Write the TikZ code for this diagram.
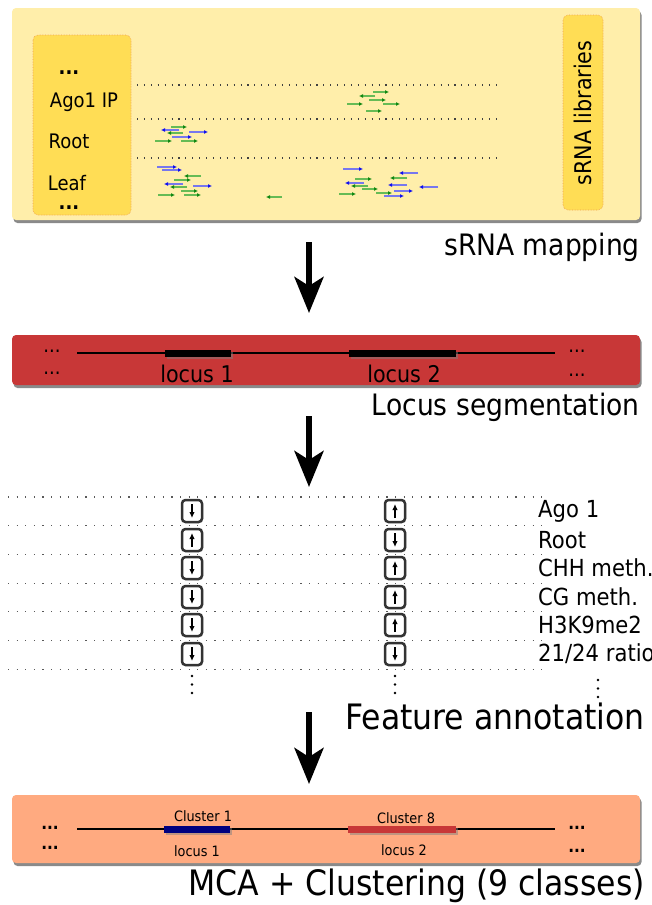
\documentclass[tikz,border=0pt]{standalone}
\usepackage{fontspec}
\setmainfont{DejaVu Sans}[FakeStretch=0.9]
\usetikzlibrary{arrows.meta,shadows}
\definecolor{panelyellow}{HTML}{FFEEAA}
\definecolor{goldbox}{HTML}{FFDD55}
\definecolor{goldedge}{HTML}{F0A050}
\definecolor{panelred}{HTML}{C83737}
\definecolor{panelorange}{HTML}{FFAA80}
\definecolor{navybar}{HTML}{00007F}
\definecolor{readgl}{HTML}{66BB55}
\definecolor{readgt}{HTML}{118811}
\definecolor{readbl}{HTML}{7777EE}
\definecolor{readbt}{HTML}{1111EE}
\tikzset{
  panel/.style={rounded corners=4pt, drop shadow={shadow xshift=1.5pt, shadow yshift=-3pt, fill=black!65, opacity=0.7}},
  libbox/.style={fill=goldbox, draw=goldedge, densely dotted, line width=0.6pt, rounded corners=5pt},
  dotline/.style={draw=black!75, line width=1.1pt, dash pattern=on 1.1pt off 5.8pt},
  fdotline/.style={draw=black!65, line width=1.1pt, dash pattern=on 1.1pt off 7.5pt},
  lbl/.style={font=\fontsize{20}{23}\selectfont, inner sep=0pt},
  dots/.style={font=\fontsize{20}{23}\selectfont\bfseries, inner sep=0pt},
  biglbl/.style={font=\fontsize{29.5}{33}\selectfont, inner sep=0pt, anchor=east},
  hugelbl/.style={font=\fontsize{35}{40}\selectfont, inner sep=0pt, anchor=east},
  loclbl/.style={font=\fontsize{23}{26}\selectfont, inner sep=0pt},
  smalllbl/.style={font=\fontsize{14.3}{16}\selectfont, inner sep=0pt},
  featlbl/.style={font=\fontsize{23.5}{26}\selectfont, inner sep=0pt, anchor=west},
  bigarrow/.style={line width=6pt, -{Stealth[length=36pt,width=29pt,inset=9pt]}},
  fbox/.style={draw=black!80, line width=2.5pt, rounded corners=3.5pt, minimum width=20pt, minimum height=22pt, fill=white, inner sep=0pt,
    drop shadow={shadow xshift=1pt, shadow yshift=-1pt, fill=black!45, opacity=0.7}},
  farrow/.style={line width=1.4pt, -{Latex[length=6pt,width=5.5pt]}},
  readg/.style={draw=readgl, line width=1.9pt, -{Latex[length=4pt,width=4pt,color=readgt]}},
  readb/.style={draw=readbl, line width=1.9pt, -{Latex[length=4pt,width=4pt,color=readbt]}},
  bar/.style={drop shadow={shadow xshift=1.5pt, shadow yshift=-2pt, fill=black!50, opacity=0.5}},
  vdot/.style={fill=black, circle, inner sep=0pt, minimum size=2.8pt}
}
\begin{document}
\begin{tikzpicture}[x=1pt,y=-1pt]
\useasboundingbox[fill=white] (0,0) rectangle (652,905);

% ---------------- Panel 1: sRNA mapping ----------------
\path[panel, fill=panelyellow] (12,8) rectangle (640,220);
\path[libbox] (33,35) rectangle (131,215);
\path[libbox] (563,15) rectangle (603,210);
\node[dots] (d1) at (69,73) {...};
\node[lbl] (ago) at (84,102) {Ago1 IP};
\node[lbl] (root) at (69,141) {Root};
\node[lbl] (leaf) at (67,183) {Leaf};
\node[dots] (d2) at (69,208) {...};
\node[font=\fontsize{23}{26}\selectfont, inner sep=0pt, rotate=90] (lib) at (583,113) {sRNA libraries};
\draw[dotline] (137,85) -- (500,85);
\draw[dotline] (137,119) -- (500,119);
\draw[dotline] (137,158) -- (500,158);
% reads: x1/x2/y/dir(1=right,0=left)/colour(g,b)
\foreach \xa/\xb/\yy/\dd/\cc in {
  373/389/92/1/g, 359/375/96/0/g, 369/386/100/1/g, 347/363/104/1/g, 383/400/104/1/g, 366/382/111/1/g,
  171/187/127/1/g, 161/179/130/0/b, 189/208/132/1/b, 167/183/133/0/g, 172/192/137/1/b, 155/172/141/1/g, 181/198/141/1/g,
  157/177/167/1/b, 162/182/170/1/b, 184/201/176/0/g, 174/191/180/1/g, 164/183/184/0/b, 170/187/187/0/g, 193/212/186/1/b,
  181/198/191/1/g, 158/175/195/1/g, 184/201/195/1/g, 266/282/197/0/g,
  343/363/169/1/b, 355/372/179/1/g, 345/364/183/0/b, 351/368/186/0/g, 339/356/194/1/g, 362/378/189/1/g, 376/392/193/1/g,
  384/404/196/1/b, 399/418/173/0/b, 390/407/178/0/g, 388/407/185/0/b, 394/413/191/1/b, 419/438/187/0/b}{
  \ifnum\dd=1
    \draw[read\cc] (\xa,\yy) -- (\xb,\yy);
  \else
    \draw[read\cc] (\xb,\yy) -- (\xa,\yy);
  \fi
}
\node[biglbl] (map) at (640,247) {sRNA mapping};

% ---------------- Arrow 1 ----------------
\coordinate (a1s) at (309,242);
\coordinate (a1e) at (309,313);
\draw[bigarrow] (a1s) -- (a1e);

% ---------------- Panel 2: Locus segmentation ----------------
\path[panel, fill=panelred] (12,335) rectangle (640,385);
\coordinate (g2l) at (77,353);
\coordinate (g2r) at (555,353);
\draw[line width=1.2pt] (g2l) -- (g2r);
\path[bar, fill=black] (165,349.5) rectangle (231,356.5);
\path[bar, fill=black] (349,349.5) rectangle (456,356.5);
\node[lbl] (s2a) at (52,351) {...};
\node[lbl] (s2b) at (52,373) {...};
\node[lbl] (s2c) at (577,351) {...};
\node[lbl] (s2d) at (577,375) {...};
\node[loclbl] (l1) at (197,374) {locus 1};
\node[loclbl] (l2) at (404,374) {locus 2};
\node[biglbl] (seg) at (640,407) {Locus segmentation};

% ---------------- Arrow 2 ----------------
\coordinate (a2s) at (309,416);
\coordinate (a2e) at (309,487);
\draw[bigarrow] (a2s) -- (a2e);

% ---------------- Panel 3: Feature annotation ----------------
\foreach \yy in {497,525.7,554.4,583.1,611.8,640.5,669.2}{
  \draw[fdotline] (8,\yy) -- (546,\yy);
}
\foreach \i/\yy/\dl/\dr/\name in {1/511/0/1/{Ago 1}, 2/540/1/0/{Root}, 3/568/0/1/{CHH meth.}, 4/597/0/1/{CG meth.}, 5/625/0/1/{H3K9me2}, 6/654/0/0/{21/24 ratio}}{
  \node[fbox] (fl\i) at (192,\yy) {};
  \node[fbox] (fr\i) at (395,\yy) {};
  \ifnum\dl=1
    \draw[farrow] ([yshift=-7pt]fl\i.center) -- ([yshift=7pt]fl\i.center);
  \else
    \draw[farrow] ([yshift=7pt]fl\i.center) -- ([yshift=-7pt]fl\i.center);
  \fi
  \ifnum\dr=1
    \draw[farrow] ([yshift=-7pt]fr\i.center) -- ([yshift=7pt]fr\i.center);
  \else
    \draw[farrow] ([yshift=7pt]fr\i.center) -- ([yshift=-7pt]fr\i.center);
  \fi
  \node[featlbl] (ft\i) at (538,\yy) {\name};
}
\foreach \xx/\ya in {192/676, 395/676, 598/680}{
  \node[vdot] at (\xx,\ya) {};
  \node[vdot] at (\xx,\ya+8.5) {};
  \node[vdot] at (\xx,\ya+17) {};
}
\node[hugelbl] (feat) at (645,716) {Feature annotation};

% ---------------- Arrow 3 ----------------
\coordinate (a3s) at (309,712);
\coordinate (a3e) at (309,784);
\draw[bigarrow] (a3s) -- (a3e);

% ---------------- Panel 4: MCA + Clustering ----------------
\path[panel, fill=panelorange] (12,795) rectangle (640,863);
\coordinate (g4l) at (77,829);
\coordinate (g4r) at (555,829);
\draw[line width=1.1pt] (g4l) -- (g4r);
\path[bar, fill=navybar] (164,825.5) rectangle (230,832.5);
\path[bar, fill=panelred] (348,825.5) rectangle (456,832.5);
\node[smalllbl] (c1) at (203,816) {Cluster 1};
\node[smalllbl] (c8) at (406,818) {Cluster 8};
\node[smalllbl] (m1) at (197,851) {locus 1};
\node[smalllbl] (m2) at (404,850) {locus 2};
\node[dots, font=\fontsize{17}{19}\selectfont\bfseries] (s4a) at (50,828) {...};
\node[dots, font=\fontsize{17}{19}\selectfont\bfseries] (s4b) at (50,848) {...};
\node[dots, font=\fontsize{17}{19}\selectfont\bfseries] (s4c) at (577,828) {...};
\node[dots, font=\fontsize{17}{19}\selectfont\bfseries] (s4d) at (577,851) {...};
\node[hugelbl] (mca) at (645,886) {MCA + Clustering (9 classes)};
\end{tikzpicture}
\end{document}
